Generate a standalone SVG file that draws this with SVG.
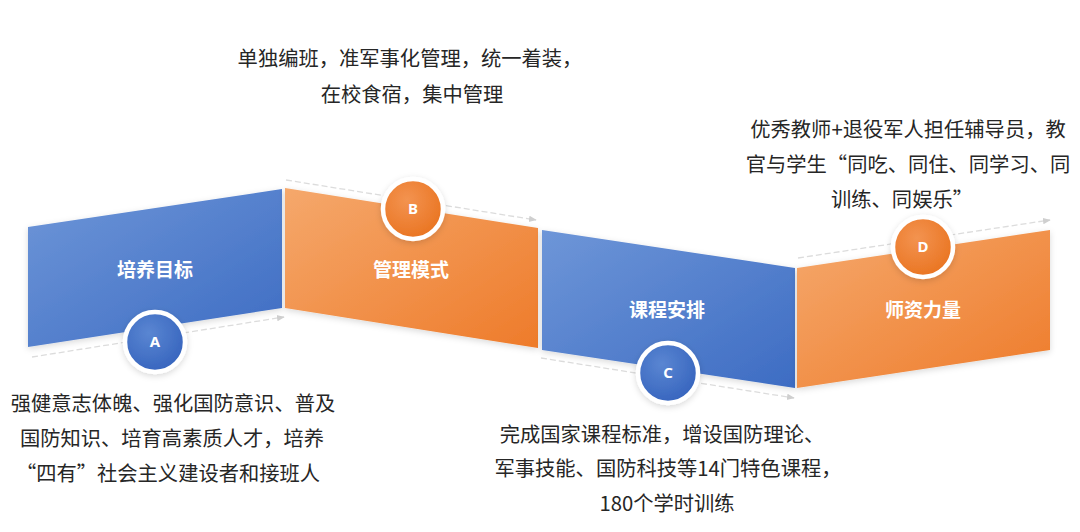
<svg xmlns="http://www.w3.org/2000/svg" width="1080" height="532" viewBox="0 0 1080 532">
<defs>
<linearGradient id="gBlue" x1="0" y1="0" x2="1" y2="1">
<stop offset="0" stop-color="#6e96d8"/>
<stop offset="1" stop-color="#3d6cc3"/>
</linearGradient>
<linearGradient id="gOrange" x1="0" y1="0" x2="1" y2="1">
<stop offset="0" stop-color="#f5a86c"/>
<stop offset="1" stop-color="#ee7b2a"/>
</linearGradient>
<radialGradient id="cBlue" cx="0.4" cy="0.35" r="0.7">
<stop offset="0" stop-color="#5a86d2"/>
<stop offset="1" stop-color="#3563bd"/>
</radialGradient>
<radialGradient id="cOrange" cx="0.4" cy="0.35" r="0.7">
<stop offset="0" stop-color="#f39350"/>
<stop offset="1" stop-color="#e9731f"/>
</radialGradient>
<filter id="sh" x="-30%" y="-30%" width="160%" height="160%">
<feDropShadow dx="0" dy="2" stdDeviation="3" flood-color="#000" flood-opacity="0.15"/>
</filter>
<marker id="arr" viewBox="0 0 10 10" refX="9" refY="5" markerWidth="6" markerHeight="6" orient="auto">
<path d="M0,1 L10,5 L0,9 z" fill="#cfcfcf"/>
</marker>
</defs>
<style>
.lbl{font-family:"Noto Sans CJK SC","Noto Sans",sans-serif;font-size:19px;font-weight:bold;fill:#ffffff;text-anchor:middle}
.ltr{font-family:"Noto Sans","Noto Sans CJK SC",sans-serif;font-size:15px;font-weight:bold;fill:#ffffff;text-anchor:middle}
.desc{font-family:"Noto Sans CJK SC","Noto Sans",sans-serif;font-size:20.3px;fill:#262626;text-anchor:middle}
.con{fill:none;stroke:#dcdcdc;stroke-width:1.3;stroke-dasharray:6 3}
.ring{stroke:#ffffff;stroke-width:4.5}
</style>
<rect width="1080" height="532" fill="#ffffff"/>
<g id="connectors">
<line class="con" x1="32" y1="357" x2="284" y2="317" marker-end="url(#arr)"/>
<line class="con" x1="286" y1="180" x2="536" y2="220" marker-end="url(#arr)"/>
<line class="con" x1="541" y1="358" x2="794" y2="398" marker-end="url(#arr)"/>
<line class="con" x1="798" y1="258" x2="1050" y2="220" marker-end="url(#arr)"/>
</g>
<g id="nodeA">
<polygon points="28,227 282,189 282,308 28,347" fill="url(#gBlue)" filter="url(#sh)"/>
<text class="lbl" x="155" y="277">培养目标</text>
<circle class="ring" cx="155" cy="342" r="30" fill="url(#cBlue)" filter="url(#sh)"/>
<text class="ltr" x="155" y="347">A</text>
<text class="desc" x="173" y="411">强健意志体魄、强化国防意识、普及</text>
<text class="desc" x="172" y="446">国防知识、培育高素质人才，培养</text>
<text class="desc" x="168" y="481">“四有”社会主义建设者和接班人</text>
</g>
<g id="nodeB">
<polygon points="285,188 538,228 538,348 285,308" fill="url(#gOrange)" filter="url(#sh)"/>
<text class="lbl" x="411" y="277">管理模式</text>
<circle class="ring" cx="413" cy="209" r="30" fill="url(#cOrange)" filter="url(#sh)"/>
<text class="ltr" x="413" y="214">B</text>
<text class="desc" x="410" y="66">单独编班，准军事化管理，统一着装，</text>
<text class="desc" x="412" y="102">在校食宿，集中管理</text>
</g>
<g id="nodeC">
<polygon points="542,230 795,268 795,388 542,350" fill="url(#gBlue)" filter="url(#sh)"/>
<text class="lbl" x="667" y="317">课程安排</text>
<circle class="ring" cx="668" cy="373" r="30" fill="url(#cBlue)" filter="url(#sh)"/>
<text class="ltr" x="668" y="378">C</text>
<text class="desc" x="662" y="442">完成国家课程标准，增设国防理论、</text>
<text class="desc" x="668" y="476">军事技能、国防科技等14门特色课程，</text>
<text class="desc" x="667" y="511">180个学时训练</text>
</g>
<g id="nodeD">
<polygon points="797,268 1050,230 1050,350 797,388" fill="url(#gOrange)" filter="url(#sh)"/>
<text class="lbl" x="923" y="317">师资力量</text>
<circle class="ring" cx="923" cy="247" r="30" fill="url(#cOrange)" filter="url(#sh)"/>
<text class="ltr" x="923" y="252">D</text>
<text class="desc" x="908" y="137">优秀教师+退役军人担任辅导员，教</text>
<text class="desc" x="908" y="172">官与学生“同吃、同住、同学习、同</text>
<text class="desc" x="902" y="207">训练、同娱乐”</text>
</g>
</svg>
